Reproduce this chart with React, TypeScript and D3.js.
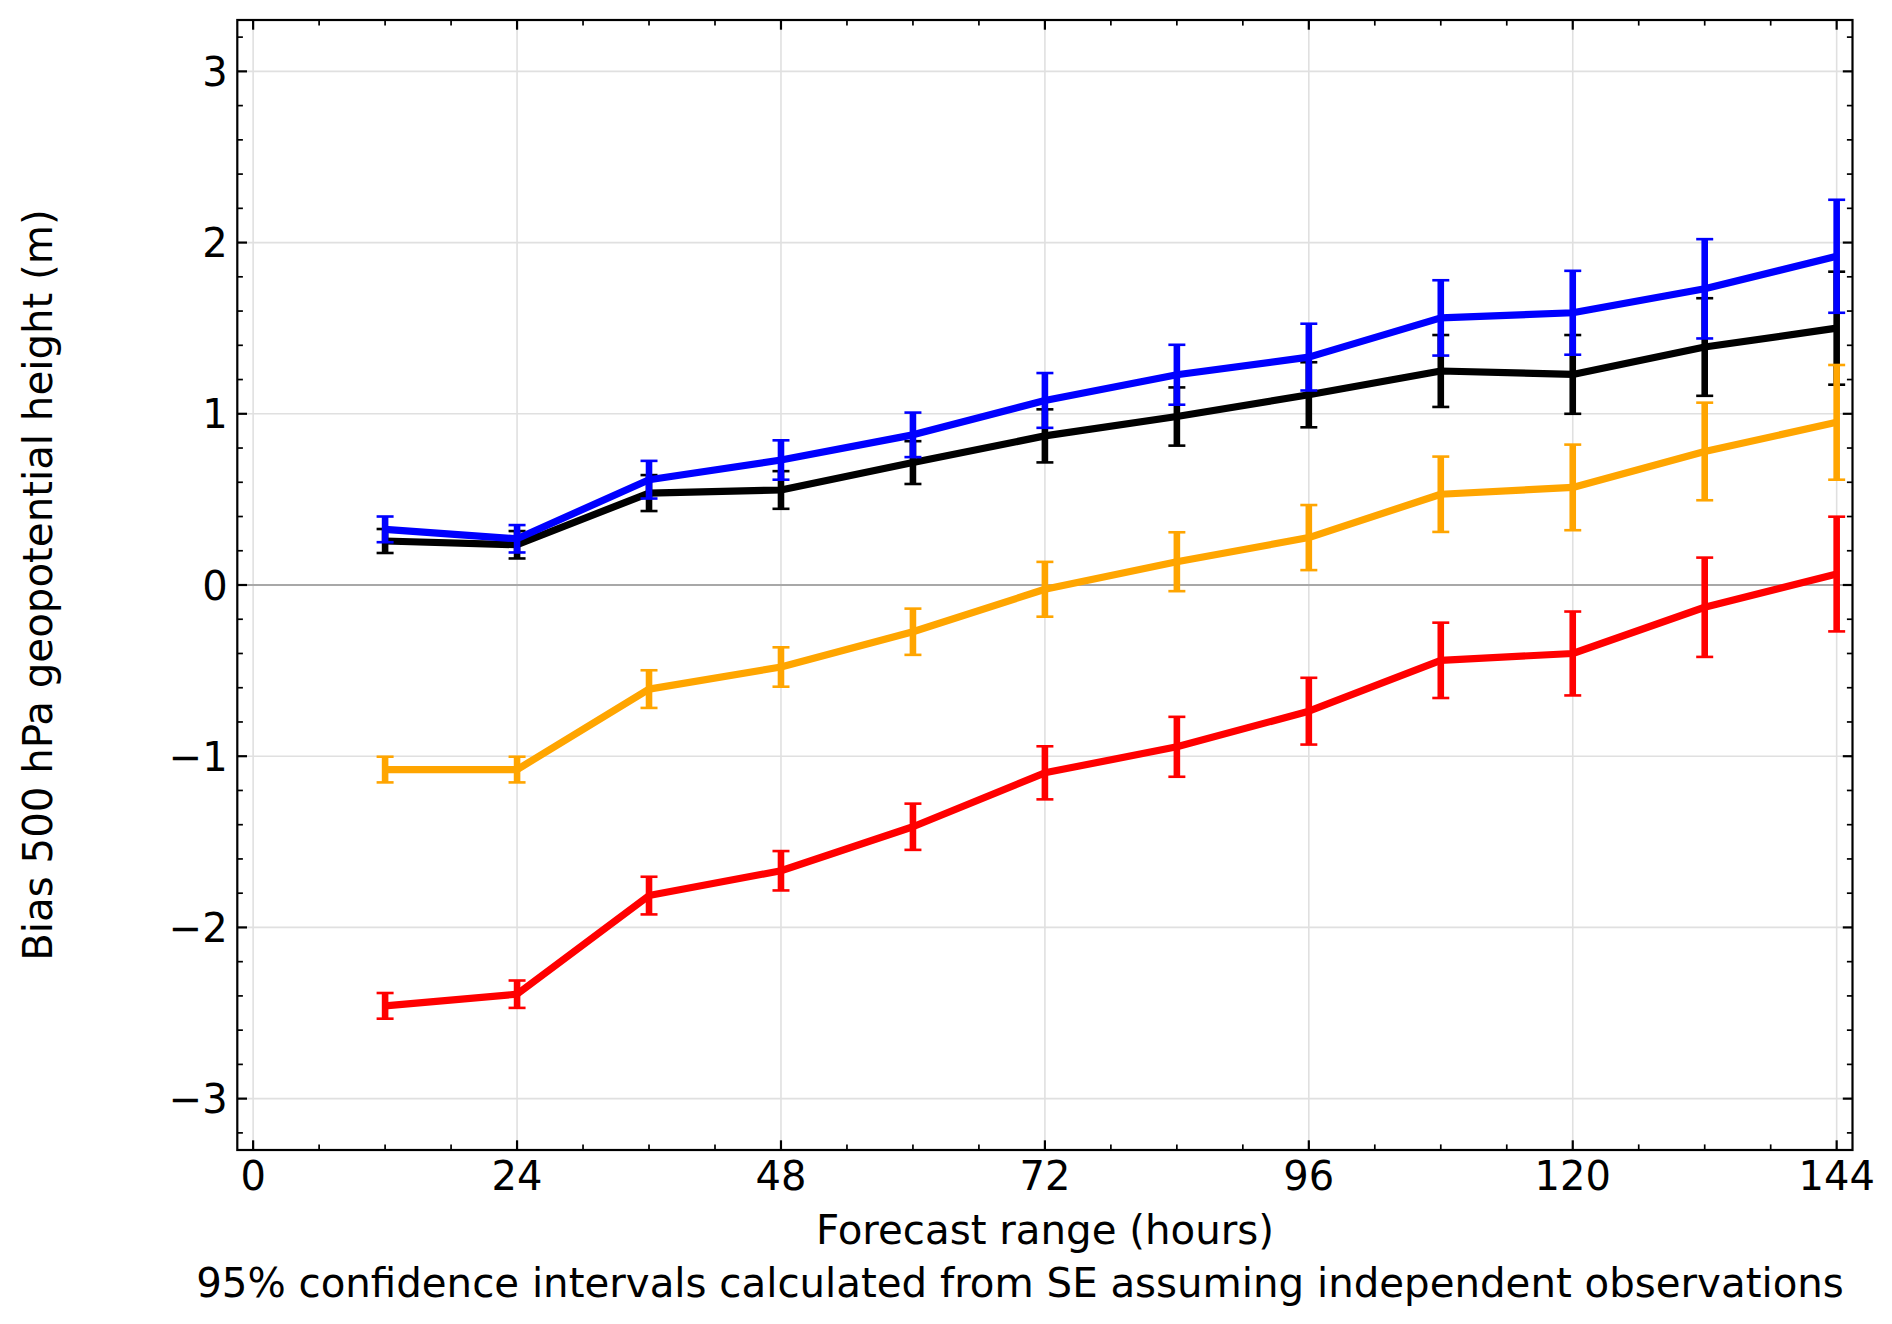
import React from "react";
import * as d3 from "d3";

const leadTimes = [12, 24, 36, 48, 60, 72, 84, 96, 108, 120, 132, 144];

const blackValues = [0.257, 0.235, 0.537, 0.555, 0.715, 0.871, 0.984, 1.111, 1.25, 1.23, 1.39, 1.5];
const blackErrors = [0.07, 0.08, 0.105, 0.11, 0.125, 0.155, 0.17, 0.19, 0.21, 0.23, 0.285, 0.33];

const blueValues = [0.325, 0.27, 0.615, 0.73, 0.877, 1.078, 1.228, 1.331, 1.56, 1.59, 1.73, 1.92];
const blueErrors = [0.075, 0.08, 0.11, 0.115, 0.13, 0.16, 0.175, 0.195, 0.22, 0.245, 0.29, 0.33];

const orangeValues = [-1.078, -1.078, -0.608, -0.479, -0.273, -0.025, 0.136, 0.277, 0.53, 0.57, 0.78, 0.95];
const orangeErrors = [0.075, 0.075, 0.11, 0.115, 0.135, 0.16, 0.172, 0.19, 0.22, 0.25, 0.285, 0.335];

const redValues = [-2.458, -2.39, -1.814, -1.669, -1.412, -1.097, -0.945, -0.737, -0.44, -0.4, -0.13, 0.064];
const redErrors = [0.075, 0.08, 0.11, 0.115, 0.135, 0.155, 0.175, 0.195, 0.22, 0.245, 0.29, 0.335];

const seriesList = [
  { name: "black", color: "#000000", values: blackValues, errors: blackErrors },
  { name: "blue", color: "#0000ff", values: blueValues, errors: blueErrors },
  { name: "orange", color: "#ffa500", values: orangeValues, errors: orangeErrors },
  { name: "red", color: "#ff0000", values: redValues, errors: redErrors },
];

const xMajorTicks = [0, 24, 48, 72, 96, 120, 144];
const yMajorTicks = [-3, -2, -1, 0, 1, 2, 3];
const xDomain = [-1.44, 145.44];
const yDomain = [-3.3, 3.3];

const xLabel = "Forecast range (hours)";
const xSubLabel = "95% confidence intervals calculated from SE assuming independent observations";
const yLabel = "Bias 500 hPa geopotential height (m)";

const W = 1892;
const H = 1324;
const M = { left: 237.3, right: 1852.5, top: 20, bottom: 1150 };
const FONT = "'DejaVu Sans', sans-serif";
const FS = 40;
const LFS = 40.3;

function fmt(v: number) {
  return v < 0 ? "\u2212" + Math.abs(v) : String(v);
}

export default function App() {
  const x = d3.scaleLinear().domain(xDomain).range([M.left, M.right]);
  const y = d3.scaleLinear().domain(yDomain).range([M.bottom, M.top]);

  const xMinor = d3.range(0, 145, 6).filter((v) => v % 24 !== 0);
  const yMinor = d3.range(-32, 33, 2).map((v) => v / 10).filter((v) => Math.abs(v - Math.round(v)) > 1e-6);

  const line = d3
    .line<number>()
    .x((_, i) => x(leadTimes[i]))
    .y((d) => y(d));

  const majLen = 9.7;
  const minLen = 5.6;
  const capHalf = 8.5;

  return (
    <div style={{ position: "fixed", left: 0, top: 0 }}>
      <svg width={W} height={H} viewBox={`0 0 ${W} ${H}`} style={{ display: "block", background: "#fff" }}>
        <rect x={0} y={0} width={W} height={H} fill="#ffffff" />
        {/* grid */}
        <g stroke="#e0e0e0" strokeWidth={1.6}>
          {xMajorTicks.map((t) => (
            <line key={"gx" + t} x1={x(t)} x2={x(t)} y1={M.top} y2={M.bottom} />
          ))}
          {yMajorTicks.filter((t) => t !== 0).map((t) => (
            <line key={"gy" + t} x1={M.left} x2={M.right} y1={y(t)} y2={y(t)} />
          ))}
        </g>
        <line x1={M.left} x2={M.right} y1={y(0)} y2={y(0)} stroke="#a8a8a8" strokeWidth={2.2} />

        {/* series */}
        {seriesList.map((s) => (
          <g key={s.name}>
            {s.values.map((v, i) => {
              const cx = x(leadTimes[i]);
              const yt = y(v + s.errors[i]);
              const yb = y(v - s.errors[i]);
              return (
                <g key={i} stroke={s.color}>
                  <line x1={cx} x2={cx} y1={yt} y2={yb} strokeWidth={6.6} />
                  <line x1={cx - capHalf} x2={cx + capHalf} y1={yt} y2={yt} strokeWidth={2.6} />
                  <line x1={cx - capHalf} x2={cx + capHalf} y1={yb} y2={yb} strokeWidth={2.6} />
                </g>
              );
            })}
            <path d={line(s.values) || ""} fill="none" stroke={s.color} strokeWidth={7.2} strokeLinejoin="round" strokeLinecap="butt" />
          </g>
        ))}

        {/* ticks */}
        <g stroke="#000">
          {xMajorTicks.map((t) => (
            <g key={"xt" + t} strokeWidth={2.2}>
              <line x1={x(t)} x2={x(t)} y1={M.bottom} y2={M.bottom - majLen} />
              <line x1={x(t)} x2={x(t)} y1={M.top} y2={M.top + majLen} />
            </g>
          ))}
          {xMinor.map((t) => (
            <g key={"xm" + t} strokeWidth={1.7}>
              <line x1={x(t)} x2={x(t)} y1={M.bottom} y2={M.bottom - minLen} />
              <line x1={x(t)} x2={x(t)} y1={M.top} y2={M.top + minLen} />
            </g>
          ))}
          {yMajorTicks.map((t) => (
            <g key={"yt" + t} strokeWidth={2.2}>
              <line x1={M.left} x2={M.left + majLen} y1={y(t)} y2={y(t)} />
              <line x1={M.right} x2={M.right - majLen} y1={y(t)} y2={y(t)} />
            </g>
          ))}
          {yMinor.map((t) => (
            <g key={"ym" + t} strokeWidth={1.7}>
              <line x1={M.left} x2={M.left + minLen} y1={y(t)} y2={y(t)} />
              <line x1={M.right} x2={M.right - minLen} y1={y(t)} y2={y(t)} />
            </g>
          ))}
        </g>

        {/* frame */}
        <rect x={M.left} y={M.top} width={M.right - M.left} height={M.bottom - M.top} fill="none" stroke="#000" strokeWidth={2.2} />

        {/* tick labels */}
        <g fontFamily={FONT} fill="#000">
          {xMajorTicks.map((t) => (
            <text key={"xl" + t} x={x(t)} y={1190} textAnchor="middle" fontSize={FS}>
              {fmt(t)}
            </text>
          ))}
          {yMajorTicks.map((t) => (
            <text key={"yl" + t} x={227.6} y={y(t) + 0.3645 * FS} textAnchor="end" fontSize={FS}>
              {fmt(t)}
            </text>
          ))}
          <text x={1045} y={1244} textAnchor="middle" fontSize={LFS}>{xLabel}</text>
          <text x={1020} y={1297} textAnchor="middle" fontSize={LFS}>{xSubLabel}</text>
          <text transform={`translate(52, ${(M.top + M.bottom) / 2}) rotate(-90)`} textAnchor="middle" fontSize={LFS}>
            {yLabel}
          </text>
        </g>
      </svg>
    </div>
  );
}
